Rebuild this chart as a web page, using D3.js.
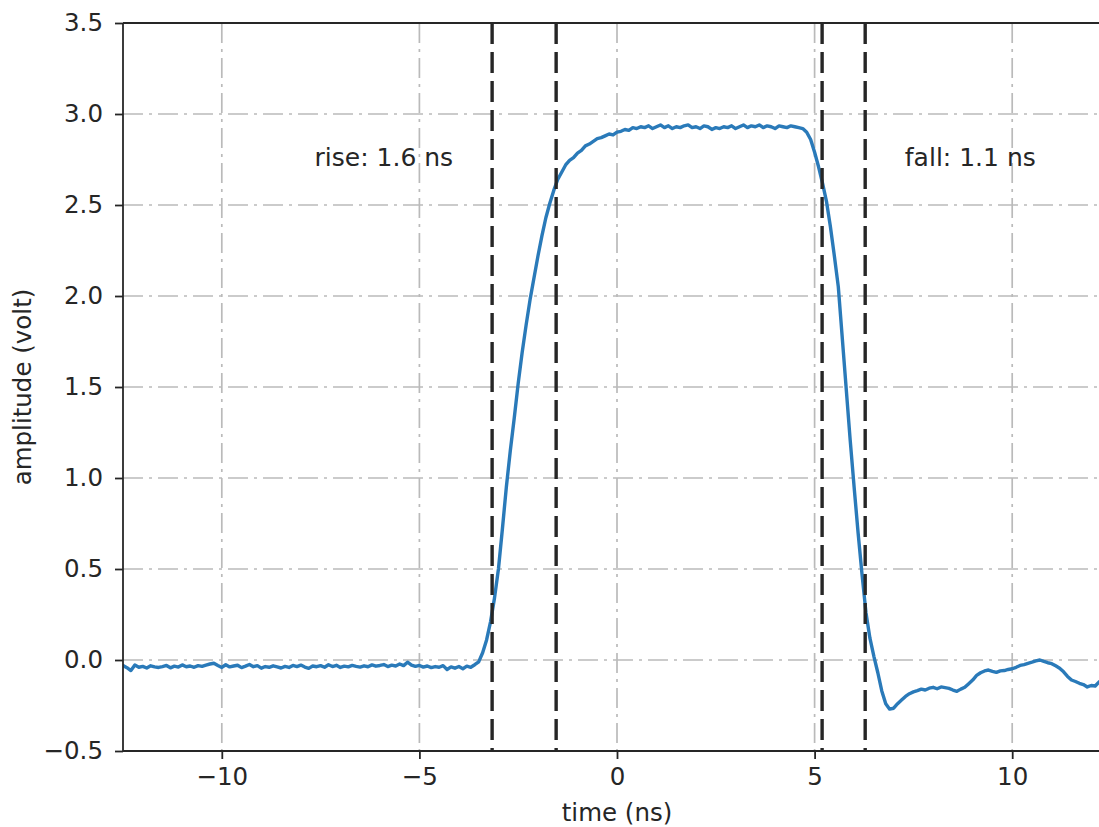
<!DOCTYPE html>
<html>
<head>
<meta charset="utf-8">
<script src="https://cdn.jsdelivr.net/npm/d3@7"></script>
<style>
  html, body { margin: 0; padding: 0; background: #fff; }
  svg { display: block; font-family: "DejaVu Sans", sans-serif; }
</style>
</head>
<body>
<svg id="chart" width="1099" height="827"></svg>
<script>
// ---- data ----
const sampleStart = -12.5;   // ns
const sampleStep = 0.1;      // ns
const amplitude = [
  -0.030,-0.042,-0.058,-0.028,-0.040,-0.035,-0.044,-0.032,-0.038,-0.041,
  -0.036,-0.030,-0.043,-0.034,-0.039,-0.027,-0.037,-0.033,-0.040,-0.031,
  -0.035,-0.028,-0.022,-0.018,-0.030,-0.041,-0.026,-0.038,-0.033,-0.029,
  -0.042,-0.034,-0.025,-0.037,-0.031,-0.045,-0.036,-0.040,-0.032,-0.038,
  -0.044,-0.035,-0.041,-0.030,-0.036,-0.028,-0.039,-0.046,-0.033,-0.037,
  -0.031,-0.040,-0.026,-0.036,-0.029,-0.041,-0.034,-0.038,-0.030,-0.035,
  -0.039,-0.032,-0.037,-0.027,-0.034,-0.030,-0.025,-0.036,-0.028,-0.033,
  -0.022,-0.031,-0.012,-0.028,-0.035,-0.030,-0.039,-0.033,-0.042,-0.036,
  -0.040,-0.031,-0.052,-0.038,-0.045,-0.036,-0.048,-0.034,-0.040,-0.026,
  -0.010, 0.040, 0.110, 0.210, 0.340, 0.500, 0.720, 0.950, 1.150, 1.330,
   1.520, 1.690, 1.840, 1.980, 2.100, 2.220, 2.330, 2.430, 2.510, 2.580,
   2.640, 2.680, 2.720, 2.745, 2.760, 2.785, 2.800, 2.825, 2.835, 2.850,
   2.865, 2.870, 2.880, 2.890, 2.885, 2.900, 2.905, 2.915, 2.910, 2.925,
   2.920, 2.930, 2.925, 2.935, 2.920, 2.930, 2.940, 2.925, 2.935, 2.920,
   2.930, 2.925, 2.935, 2.940, 2.925, 2.930, 2.920, 2.935, 2.930, 2.915,
   2.925, 2.920, 2.930, 2.925, 2.935, 2.920, 2.930, 2.940, 2.925, 2.935,
   2.930, 2.940, 2.925, 2.935, 2.930, 2.920, 2.935, 2.930, 2.925, 2.935,
   2.930, 2.925, 2.920, 2.900, 2.860, 2.790, 2.710, 2.620, 2.520, 2.380,
   2.220, 2.050, 1.770, 1.490, 1.210, 0.950, 0.700, 0.470, 0.260, 0.120,
   0.020,-0.070,-0.170,-0.240,-0.270,-0.265,-0.240,-0.220,-0.200,-0.185,
  -0.175,-0.168,-0.160,-0.165,-0.155,-0.150,-0.158,-0.148,-0.152,-0.156,
  -0.165,-0.172,-0.160,-0.150,-0.130,-0.110,-0.085,-0.070,-0.060,-0.055,
  -0.062,-0.068,-0.060,-0.058,-0.052,-0.048,-0.040,-0.030,-0.025,-0.018,
  -0.012,-0.005, 0.000,-0.008,-0.015,-0.020,-0.032,-0.045,-0.065,-0.090,
  -0.110,-0.118,-0.128,-0.135,-0.148,-0.140,-0.143,-0.120
];
const edgeTimes = [-3.16, -1.54, 5.19, 6.28];
const annotations = [
  { text: "rise: 1.6 ns", t: -5.9, v: 2.76 },
  { text: "fall: 1.1 ns", t: 8.94, v: 2.76 }
];
const xTicks = [-10, -5, 0, 5, 10];
const yTicks = [-0.5, 0.0, 0.5, 1.0, 1.5, 2.0, 2.5, 3.0, 3.5];
const xDomain = [-12.5, 12.5];
const yDomain = [-0.5, 3.5];
const xLabel = "time (ns)";
const yLabel = "amplitude (volt)";

const series = amplitude.map((v, i) => ({ t: sampleStart + i * sampleStep, v }));

// ---- layout ----
const W = 1099, H = 827;
const M = { left: 123, top: 23, right: 1111, bottom: 751 };
const ink = "#262626";
const gridColor = "#bababa";

const svg = d3.select("#chart");
const x = d3.scaleLinear().domain(xDomain).range([M.left, M.right]);
const y = d3.scaleLinear().domain(yDomain).range([M.bottom, M.top]);

svg.append("defs").append("clipPath").attr("id", "plotclip")
  .append("rect").attr("x", M.left).attr("y", M.top)
  .attr("width", M.right - M.left).attr("height", M.bottom - M.top);

// grid
const grid = svg.append("g").attr("clip-path", "url(#plotclip)");
grid.selectAll(".vg").data(xTicks).join("line")
  .attr("x1", d => x(d)).attr("x2", d => x(d))
  .attr("y1", M.top).attr("y2", M.bottom)
  .attr("stroke", gridColor).attr("stroke-width", 1.7)
  .attr("stroke-dasharray", "20,6,3,6");
grid.selectAll(".hg").data(yTicks).join("line")
  .attr("y1", d => y(d)).attr("y2", d => y(d))
  .attr("x1", M.left).attr("x2", M.right)
  .attr("stroke", gridColor).attr("stroke-width", 1.7)
  .attr("stroke-dasharray", "20,6,3,6");

// waveform
const line = d3.line().x(d => x(d.t)).y(d => y(d.v));
svg.append("path").datum(series)
  .attr("clip-path", "url(#plotclip)")
  .attr("d", line).attr("fill", "none")
  .attr("stroke", "#2a7ab9").attr("stroke-width", 3.4)
  .attr("stroke-linejoin", "round").attr("stroke-linecap", "round");

// edge markers
svg.append("g").attr("clip-path", "url(#plotclip)")
  .selectAll("line").data(edgeTimes).join("line")
  .attr("x1", d => x(d)).attr("x2", d => x(d))
  .attr("y1", M.top).attr("y2", M.bottom)
  .attr("stroke", ink).attr("stroke-width", 3.4)
  .attr("stroke-dasharray", "21,8");

// annotations
svg.append("g").selectAll("text").data(annotations).join("text")
  .attr("x", d => x(d.t)).attr("y", d => y(d.v))
  .attr("text-anchor", "middle").attr("dominant-baseline", "central")
  .attr("fill", ink).attr("font-size", 25)
  .text(d => d.text);

// axes
const xAxis = d3.axisBottom(x).tickValues(xTicks).tickSize(8).tickPadding(9)
  .tickFormat(d => d3.format("d")(d).replace("-", "\u2212"));
const yAxis = d3.axisLeft(y).tickValues(yTicks).tickSize(8).tickPadding(12)
  .tickFormat(d => d3.format(".1f")(d).replace("-", "\u2212"));

const gx = svg.append("g").attr("transform", `translate(0,${M.bottom})`).call(xAxis);
const gy = svg.append("g").attr("transform", `translate(${M.left},0)`).call(yAxis);
[gx, gy].forEach(g => {
  g.select(".domain").remove();
  g.selectAll(".tick line").attr("stroke", ink).attr("stroke-width", 1.8);
  g.selectAll(".tick text").attr("fill", ink).attr("font-size", 24.5)
    .attr("font-family", "DejaVu Sans, sans-serif");
});

// spines
const spines = svg.append("g").attr("stroke", ink).attr("stroke-width", 1.8).attr("fill", "none");
spines.append("line").attr("x1", M.left).attr("x2", M.left).attr("y1", M.top).attr("y2", M.bottom);
spines.append("line").attr("x1", M.left).attr("x2", M.right).attr("y1", M.bottom).attr("y2", M.bottom);
spines.append("line").attr("x1", M.left).attr("x2", M.right).attr("y1", M.top).attr("y2", M.top);
spines.append("line").attr("x1", M.right).attr("x2", M.right).attr("y1", M.top).attr("y2", M.bottom);

// axis labels
svg.append("text").attr("x", (M.left + M.right) / 2).attr("y", 812)
  .attr("text-anchor", "middle").attr("dominant-baseline", "central")
  .attr("fill", ink).attr("font-size", 24.5).text(xLabel);
svg.append("text")
  .attr("transform", `translate(22,${(M.top + M.bottom) / 2}) rotate(-90)`)
  .attr("text-anchor", "middle").attr("dominant-baseline", "central")
  .attr("fill", ink).attr("font-size", 24.5).text(yLabel);
</script>
</body>
</html>
